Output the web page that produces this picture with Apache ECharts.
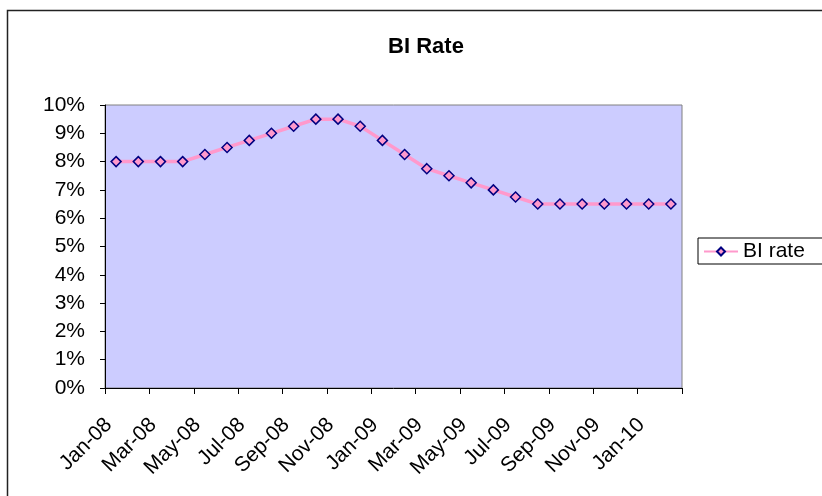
<!DOCTYPE html>
<html>
<head>
<meta charset="utf-8">
<script src="https://cdn.jsdelivr.net/npm/echarts@6/dist/echarts.min.js"></script>
<style>
  html, body { margin: 0; padding: 0; background: #fff; }
  #main { width: 822px; height: 496px; }
</style>
</head>
<body>
<div id="main"></div>
<script>
// BI rate, monthly
var months = [
  "Jan-08", "Feb-08", "Mar-08", "Apr-08", "May-08", "Jun-08", "Jul-08", "Aug-08",
  "Sep-08", "Oct-08", "Nov-08", "Dec-08", "Jan-09", "Feb-09", "Mar-09", "Apr-09",
  "May-09", "Jun-09", "Jul-09", "Aug-09", "Sep-09", "Oct-09", "Nov-09", "Dec-09",
  "Jan-10", "Feb-10"
];
var biRate = [
  0.08, 0.08, 0.08, 0.08, 0.0825, 0.085, 0.0875, 0.09,
  0.0925, 0.095, 0.095, 0.0925, 0.0875, 0.0825, 0.0775, 0.075,
  0.0725, 0.07, 0.0675, 0.065, 0.065, 0.065, 0.065, 0.065,
  0.065, 0.065
];

var chartDom = document.getElementById("main");
var myChart = echarts.init(chartDom);
var option;

var font = "Liberation Sans, Arial, sans-serif";

option = {
  animation: false,
  backgroundColor: "#ffffff",
  textStyle: { fontFamily: font },
  graphic: [
    {
      type: "rect",
      shape: { x: 7.5, y: 10.5, width: 830, height: 500 },
      style: { fill: "none", stroke: "#222", lineWidth: 1.5 }
    }
  ],
  title: {
    text: "BI Rate",
    left: 421,
    textAlign: "center",
    top: 31,
    textStyle: { fontFamily: font, fontSize: 22, fontWeight: "bold", color: "#000" }
  },
  legend: {
    left: 698,
    top: 238,
    orient: "vertical",
    itemWidth: 34,
    itemHeight: 10,
    itemGap: 0,
    padding: [3, 30, 2, 5],
    borderColor: "#000",
    borderWidth: 1,
    textStyle: { fontFamily: font, fontSize: 21, color: "#000" },
    data: ["BI rate"]
  },
  grid: {
    left: 105,
    top: 105,
    right: 140,
    bottom: 108,
    show: true,
    backgroundColor: "#CCCCFF",
    borderColor: "#808080",
    borderWidth: 1
  },
  xAxis: {
    type: "category",
    data: months,
    boundaryGap: true,
    axisLine: { show: true, lineStyle: { color: "#000", width: 1 } },
    axisTick: { show: true, interval: 1, length: 6, lineStyle: { color: "#000" } },
    axisLabel: {
      interval: 1,
      rotate: 45,
      margin: 41,
      verticalAlign: "bottom",
      fontFamily: font,
      fontSize: 21,
      color: "#000"
    },
    splitLine: { show: false }
  },
  yAxis: {
    type: "value",
    min: 0,
    max: 0.1,
    interval: 0.01,
    axisLine: { show: true, lineStyle: { color: "#000", width: 1 } },
    axisTick: { show: true, length: 5, lineStyle: { color: "#000" } },
    axisLabel: {
      margin: 20,
      fontFamily: font,
      fontSize: 21,
      color: "#000",
      formatter: function (v) { return Math.round(v * 100) + "%"; }
    },
    splitLine: { show: false }
  },
  series: [
    {
      name: "BI rate",
      type: "line",
      data: biRate,
      symbol: "diamond",
      symbolSize: 10,
      lineStyle: { color: "#FF99CC", width: 3.5 },
      itemStyle: { color: "#FF99CC", borderColor: "#000080", borderWidth: 1.5 }
    }
  ]
};

option && myChart.setOption(option);
</script>
</body>
</html>
